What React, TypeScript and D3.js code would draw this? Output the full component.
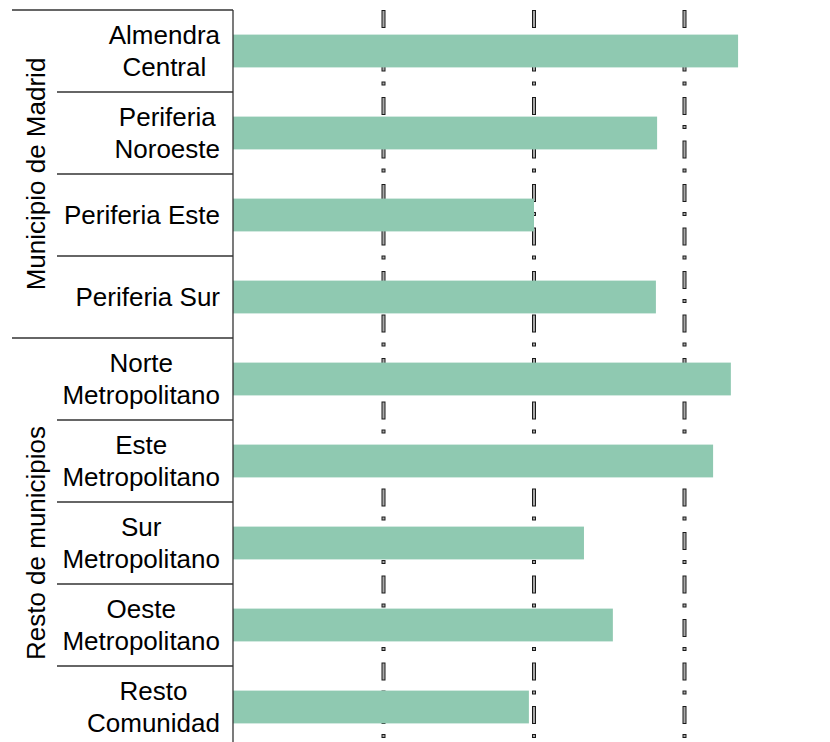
import React from "react";
import * as d3 from "d3";

const categories = [
  "Almendra\nCentral",
  "Periferia\nNoroeste",
  "Periferia Este",
  "Periferia Sur",
  "Norte\nMetropolitano",
  "Este\nMetropolitano",
  "Sur\nMetropolitano",
  "Oeste\nMetropolitano",
  "Resto\nComunidad",
];
const values = [16.78, 14.09, 10.0, 14.05, 16.54, 15.95, 11.66, 12.62, 9.83];
const groups = ["Municipio de Madrid", "Resto de municipios"];
const groupSizes = [4, 5];
const gridTicks = [5, 10, 15];

const W = 830;
const H = 742;
const FONT = "'Liberation Sans', Arial, Helvetica, sans-serif";
const FS = 26;
const LINE_H = 32;

function measure(text: string): number {
  const c = document.createElement("canvas");
  const ctx = c.getContext("2d")!;
  ctx.font = `${FS}px ${FONT}`;
  return ctx.measureText(text).width;
}

export default function App() {
  React.useEffect(() => {
    document.body.style.margin = "0";
  }, []);

  const axisX = 233;
  const top = 10;
  const step = 82;
  const x = d3.scaleLinear().domain([0, 20]).range([axisX, axisX + 20 * 30.1]);
  const y = d3
    .scaleBand<string>()
    .domain(categories)
    .range([top, top + step * categories.length])
    .padding(0);
  const bw = y.bandwidth();

  const labelRight = 220;

  // group boundaries indices
  const bounds: number[] = [0];
  groupSizes.reduce((acc, s) => {
    bounds.push(acc + s);
    return acc + s;
  }, 0);

  return (
    <svg width={W} height={H} style={{ display: "block", background: "#fff" }} fontFamily={FONT}>
      {/* gridlines */}
      {gridTicks.map((t) => (
        <g key={t}>
          <line
            x1={x(t)}
            x2={x(t)}
            y1={top}
            y2={H}
            stroke="#1a1a1a"
            strokeWidth={4}
            strokeDasharray="18 10 4 11.5"
          />
          <line
            x1={x(t)}
            x2={x(t)}
            y1={top}
            y2={H}
            stroke="#a8a8a8"
            strokeWidth={2}
            strokeDasharray="16 12 2 13.5"
            strokeDashoffset={-1}
          />
        </g>
      ))}
      {/* bars */}
      {categories.map((c, i) => (
        <rect
          key={c}
          x={x(0)}
          y={(y(c) as number) + bw * 0.3}
          width={x(values[i]) - x(0)}
          height={bw * 0.4}
          fill="#8fc9b1"
        />
      ))}
      {/* row separators */}
      {d3.range(categories.length + 1).map((i) => {
        const isGroup = bounds.includes(i);
        const yy = top + step * i;
        return (
          <line
            key={i}
            x1={isGroup ? 12 : 57}
            x2={axisX}
            y1={yy}
            y2={yy}
            stroke="#333"
            strokeWidth={1.3}
          />
        );
      })}
      {/* axis line */}
      <line x1={axisX} x2={axisX} y1={top} y2={H} stroke="#333" strokeWidth={1.3} />
      {/* category labels */}
      {categories.map((c) => {
        const lines = c.split("\n");
        const maxW = Math.max(...lines.map(measure));
        const cx = labelRight - maxW / 2;
        const center = (y(c) as number) + bw / 2;
        return (
          <text key={c} fontSize={FS} fill="#000" textAnchor="middle">
            {lines.map((ln, j) => (
              <tspan
                key={j}
                x={cx}
                y={center + FS * 0.35 + (j - (lines.length - 1) / 2) * LINE_H}
              >
                {ln}
              </tspan>
            ))}
          </text>
        );
      })}
      {/* group labels */}
      {groups.map((g, gi) => {
        const y0 = top + step * bounds[gi];
        const y1 = top + step * bounds[gi + 1];
        const cy = (y0 + y1) / 2;
        return (
          <text
            key={g}
            fontSize={FS}
            fill="#000"
            textAnchor="middle"
            transform={`translate(45,${cy}) rotate(-90)`}
          >
            {g}
          </text>
        );
      })}
    </svg>
  );
}
